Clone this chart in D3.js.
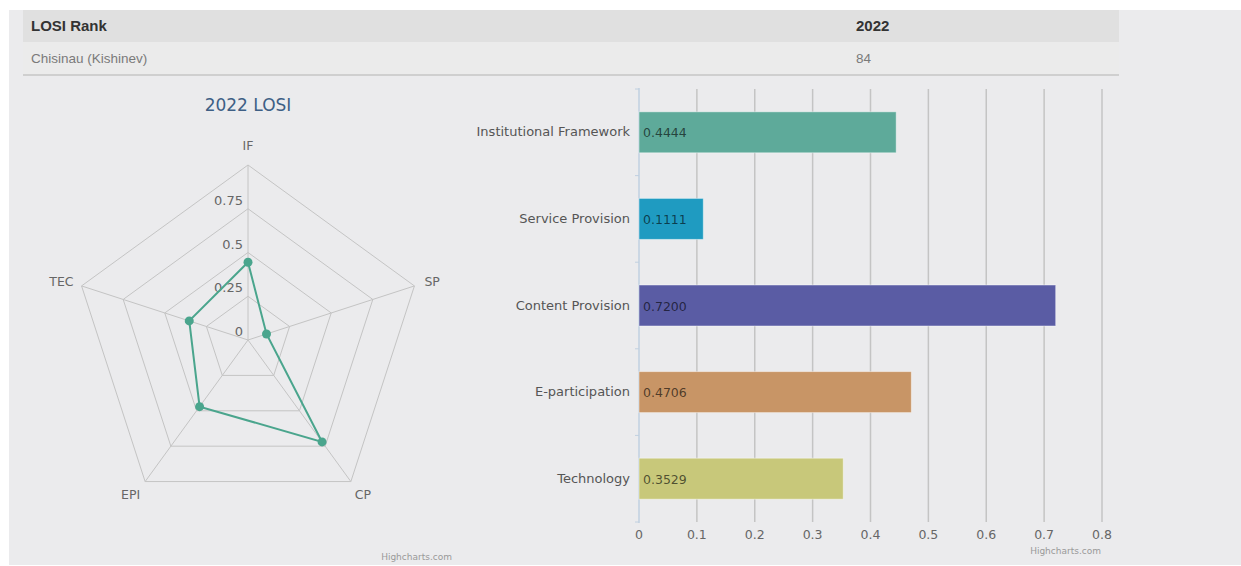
<!DOCTYPE html>
<html lang="en">
<head>
    <meta charset="UTF-8">
    <title>LOSI 2022 - Chisinau</title>
    <script src="https://d3js.org/d3.v7.min.js"></script>
    <style>
        body, html {
            margin: 0;
            padding: 0;
            overflow: hidden;
            background: #ffffff;
        }
        svg {
            display: block;
        }
        .grid line, .grid path {
            stroke: #c4c4c4;
            fill: none;
        }
        .lbl {
            font-family: "DejaVu Sans", sans-serif;
            font-size: 12px;
            fill: #666;
        }
    </style>
</head>
<body>
<svg width="1241" height="566"></svg>

<script>
    // table
    const tableHead = ['LOSI Rank', '2022'];
    const tableRow = ['Chisinau (Kishinev)', '84'];

    // radar
    const radarTitle = '2022 LOSI';
    const radarAxes = ['IF', 'SP', 'CP', 'EPI', 'TEC'];
    const radarTicks = [0, 0.25, 0.5, 0.75, 1];
    const radarValues = [0.4444, 0.1111, 0.72, 0.4706, 0.3529];

    // bars
    const barCategories = ['Institutional Framework', 'Service Provision', 'Content Provision', 'E-participation', 'Technology'];
    const barValues = [0.4444, 0.1111, 0.72, 0.4706, 0.3529];
    const barColors = ['#5eaa9a', '#1f9bc1', '#5a5ca4', '#c89566', '#c8c87a'];
    const xTicks = [0, 0.1, 0.2, 0.3, 0.4, 0.5, 0.6, 0.7, 0.8];

    const svg = d3.select('svg');

    // panel background
    svg.append('rect').attr('x', 9).attr('y', 10).attr('width', 1232).attr('height', 555).attr('fill', '#ebebed');

    // table
    svg.append('rect').attr('x', 23).attr('y', 10).attr('width', 1096).attr('height', 32).attr('fill', '#e0e0e0');
    svg.append('rect').attr('x', 23).attr('y', 42).attr('width', 1096).attr('height', 33).attr('fill', '#ebebeb');
    svg.append('line').attr('x1', 23).attr('x2', 1119).attr('y1', 75).attr('y2', 75)
        .attr('stroke', '#cfcfcf').attr('stroke-width', 2);

    const colX = [31, 856];
    tableHead.forEach((t, i) => {
        svg.append('text').attr('x', colX[i]).attr('y', 31)
            .attr('font-family', 'Liberation Sans, Arial, sans-serif')
            .attr('font-size', 15).attr('font-weight', 'bold').attr('fill', '#333')
            .text(t);
    });
    tableRow.forEach((t, i) => {
        svg.append('text').attr('x', colX[i]).attr('y', 63)
            .attr('font-family', 'Liberation Sans, Arial, sans-serif')
            .attr('font-size', 13.5).attr('fill', '#7a7a7a')
            .text(t);
    });

    // ---------- radar ----------
    const cx = 248, cy = 340, R = 175;
    const r = d3.scaleLinear().domain([0, 1]).range([0, R]);
    const ang = i => (-90 + 72 * i) * Math.PI / 180;
    const pt = (i, v) => [cx + r(v) * Math.cos(ang(i)), cy + r(v) * Math.sin(ang(i))];

    svg.append('text').attr('x', cx).attr('y', 111).attr('text-anchor', 'middle')
        .attr('font-family', 'DejaVu Sans, sans-serif').attr('font-size', 17)
        .attr('fill', '#3e5f85').text(radarTitle);

    const rg = svg.append('g').attr('class', 'grid');
    radarTicks.filter(t => t > 0).forEach(t => {
        rg.append('path')
            .attr('d', d3.line()(radarAxes.map((a, i) => pt(i, t))) + 'Z');
    });
    radarAxes.forEach((a, i) => {
        const p = pt(i, 1);
        rg.append('line').attr('x1', cx).attr('y1', cy).attr('x2', p[0]).attr('y2', p[1]);
    });

    radarTicks.filter(t => t < 1).forEach(t => {
        svg.append('text').attr('class', 'lbl')
            .attr('x', cx - 5).attr('y', cy - r(t) - 4)
            .attr('text-anchor', 'end').style('font-size', '13px')
            .text(t);
    });

    const labelPos = [
        { dx: 0, dy: -15, anchor: 'middle' },
        { dx: 10, dy: 0, anchor: 'start' },
        { dx: 4, dy: 17, anchor: 'start' },
        { dx: -5, dy: 17, anchor: 'end' },
        { dx: -8, dy: 0, anchor: 'end' }
    ];
    radarAxes.forEach((a, i) => {
        const p = pt(i, 1);
        svg.append('text').attr('class', 'lbl')
            .attr('x', p[0] + labelPos[i].dx).attr('y', p[1] + labelPos[i].dy)
            .attr('text-anchor', labelPos[i].anchor)
            .style('font-size', '12.5px')
            .text(a);
    });

    const radarPts = radarValues.map((v, i) => pt(i, v));
    svg.append('path')
        .attr('d', d3.line()(radarPts) + 'Z')
        .attr('fill', 'none').attr('stroke', '#4aa58d').attr('stroke-width', 2);
    svg.append('g').selectAll('circle').data(radarPts).enter().append('circle')
        .attr('cx', d => d[0]).attr('cy', d => d[1]).attr('r', 4.5).attr('fill', '#4aa58d');

    svg.append('text').attr('x', 452).attr('y', 560).attr('text-anchor', 'end')
        .attr('font-family', 'DejaVu Sans, sans-serif').attr('font-size', 9).attr('fill', '#999')
        .text('Highcharts.com');

    // ---------- bars ----------
    const x = d3.scaleLinear().domain([0, 0.8]).range([639, 1102]);
    const y = d3.scaleBand().domain(barCategories).range([89, 522]);
    const barH = 41;

    const bg = svg.append('g').attr('class', 'grid');
    bg.selectAll('line').data(xTicks.filter(t => t > 0)).enter().append('line')
        .attr('x1', d => x(d)).attr('x2', d => x(d))
        .attr('y1', 89).attr('y2', 522)
        .attr('stroke-width', 1.5);

    // category axis
    svg.append('line').attr('x1', 639).attr('x2', 639).attr('y1', 88).attr('y2', 523)
        .attr('stroke', '#c0d0e0').attr('stroke-width', 1.5);
    const bounds = barCategories.map(c => y(c)).concat([522]);
    svg.append('g').selectAll('line').data(bounds).enter().append('line')
        .attr('x1', 635).attr('x2', 639)
        .attr('y1', d => d).attr('y2', d => d)
        .attr('stroke', '#c0d0e0').attr('stroke-width', 1);

    svg.append('g').selectAll('rect').data(barValues).enter().append('rect')
        .attr('x', x(0))
        .attr('y', (d, i) => y(barCategories[i]) + (y.bandwidth() - barH) / 2)
        .attr('width', d => x(d) - x(0))
        .attr('height', barH)
        .attr('fill', (d, i) => barColors[i])
        .attr('stroke', 'rgba(255,255,255,0.45)').attr('stroke-width', 1);

    svg.append('g').selectAll('text').data(barValues).enter().append('text')
        .attr('x', x(0) + 4)
        .attr('y', (d, i) => y(barCategories[i]) + y.bandwidth() / 2 + 5)
        .attr('font-family', 'DejaVu Sans, sans-serif').attr('font-size', 12.5)
        .attr('fill', 'rgba(0,0,0,0.62)')
        .text(d => d.toFixed(4));

    svg.append('g').selectAll('text').data(barCategories).enter().append('text')
        .attr('class', 'lbl')
        .attr('x', 630)
        .attr('y', d => y(d) + y.bandwidth() / 2 + 4)
        .attr('text-anchor', 'end')
        .style('font-size', '13px')
        .style('fill', '#555')
        .text(d => d);

    svg.append('g').selectAll('text').data(xTicks).enter().append('text')
        .attr('class', 'lbl')
        .attr('x', d => x(d)).attr('y', 539)
        .attr('text-anchor', 'middle')
        .style('font-size', '12.5px')
        .text(d => d);

    svg.append('text').attr('x', 1101).attr('y', 554).attr('text-anchor', 'end')
        .attr('font-family', 'DejaVu Sans, sans-serif').attr('font-size', 9).attr('fill', '#999')
        .text('Highcharts.com');
</script>
</body>
</html>
